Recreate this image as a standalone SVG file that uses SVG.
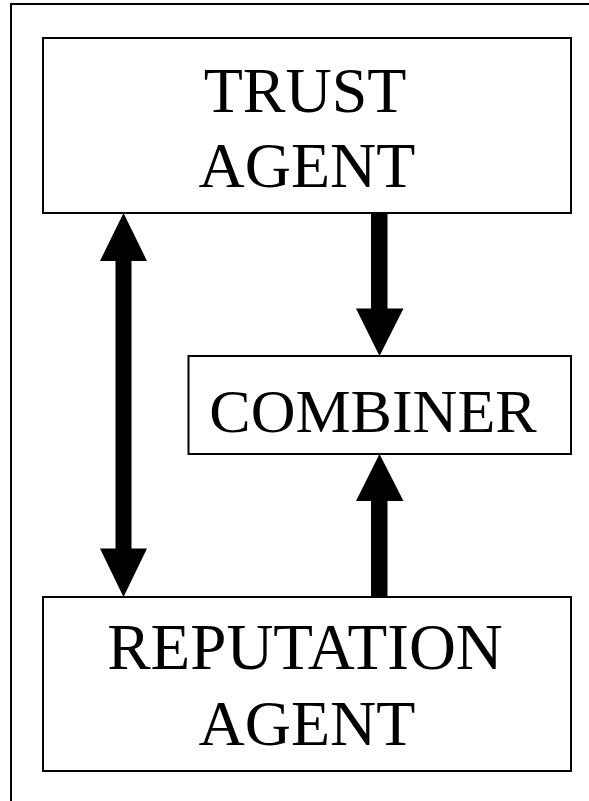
<svg xmlns="http://www.w3.org/2000/svg" width="589" height="801" viewBox="0 0 589 801">
<style>
.box{fill:#fff;stroke:#000;stroke-width:2}
.lbl{font-family:"Liberation Serif","Times New Roman",serif;font-size:64px;fill:#000;text-anchor:middle}
.arr{fill:#000;stroke:none}
</style>
<rect width="589" height="801" fill="#fff"/>
<path d="M11,801 V4 H589" fill="none" stroke="#000" stroke-width="2"/>
<g id="trust-agent">
<rect class="box" x="43" y="38" width="528" height="175"/>
<text class="lbl" x="305" y="112">TRUST</text>
<text class="lbl" x="307" y="187">AGENT</text>
</g>
<g id="combiner">
<rect class="box" x="188.5" y="356" width="382.5" height="98"/>
<text class="lbl" x="373" y="432" style="font-size:62px">COMBINER</text>
</g>
<g id="reputation-agent">
<rect class="box" x="43" y="597" width="528" height="174"/>
<text class="lbl" x="305" y="669" style="font-size:65px">REPUTATION</text>
<text class="lbl" x="307" y="745">AGENT</text>
</g>
<g id="connectors">
<polygon class="arr" points="123.5,213 147,261 131.5,261 131.5,548.5 147,548.5 123.5,597 100,548.5 115.5,548.5 115.5,261 100,261"/>
<polygon class="arr" points="371,213 387.5,213 387.5,308.5 403.5,308.5 379.5,356 356,308.5 371,308.5"/>
<polygon class="arr" points="379.5,454 403.5,501 387.5,501 387.5,596 371,596 371,501 356,501"/>
</g>
</svg>
